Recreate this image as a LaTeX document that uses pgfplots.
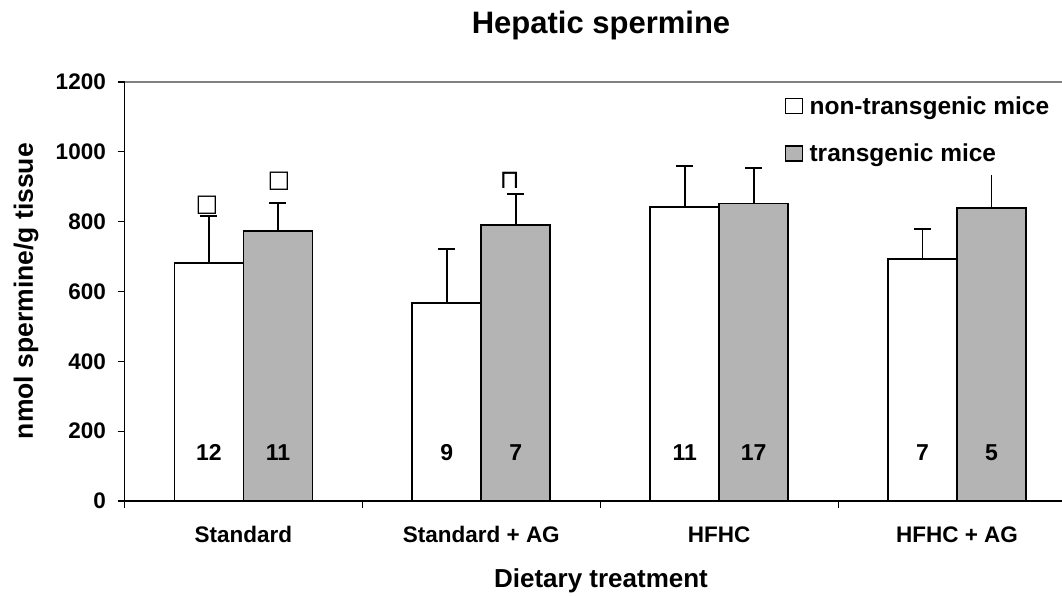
\documentclass[border=0pt]{standalone}
\usepackage{pgfplots}
\pgfplotsset{compat=1.18}
\usepackage{fontspec}
\setmainfont{Liberation Sans}
\newfontfamily\symfont{DejaVu Sans}
\definecolor{barGray}{RGB}{180,180,180}
\definecolor{topGray}{RGB}{128,128,128}
\newcommand{\fs}[1]{\fontsize{#1}{#1}\selectfont\bfseries}
\begin{document}
\begin{tikzpicture}[x=1pt,y=1pt]
\begin{axis}[
  at={(124.5pt,94pt)}, anchor=south west,
  scale only axis, width=951.5pt, height=419pt,
  xmin=-0.5, xmax=3.5, ymin=0, ymax=1200,
  axis x line*=bottom, axis y line*=left,
  axis line style={-, line width=1.5pt, black},
  ybar, bar width=0.29,
  ytick={0,200,...,1200},
  xtick={-0.5,0.5,1.5,2.5,3.5},
  x tick label as interval,
  xticklabels={Standard, Standard + AG, HFHC, HFHC + AG},
  tick align=outside,
  major tick length=7pt,
  tick style={line width=1.2pt, black},
  /pgf/number format/assume math mode=true,
  /pgf/number format/1000 sep={},
  yticklabel style={font=\fs{22.5}, anchor=east, inner sep=0pt, xshift=-11.5pt},
  xticklabel style={font=\fs{22.5}, anchor=base, inner sep=0pt, yshift=-34pt},
  title={Hepatic spermine},
  title style={font=\fs{31}, at={(axis description cs:0.5008,1.1026)}, anchor=base, inner sep=0pt},
  xlabel={Dietary treatment},
  xlabel style={font=\fs{26}, at={(axis description cs:0.5008,-0.2076)}, anchor=base, inner sep=0pt},
  ylabel={nmol spermine/g tissue},
  ylabel style={font=\fs{26.5}, at={(axis description cs:-0.1035,0.501)}, anchor=center, inner sep=0pt},
  legend style={draw=none, fill=none, at={(axis description cs:0.6942,0.965)}, anchor=north west,
    inner sep=0pt, outer sep=0pt, row sep=28pt, font=\fs{24.5},
    nodes={inner sep=0pt}},
  legend cell align=left,
]
\addplot[fill=white, draw=black, line width=1.8pt, bar shift=-0.145,
  legend image code/.code={\draw[line width=1.3pt, draw=black, fill=white] (0pt,-7.5pt) rectangle (17pt,7.5pt); \path (23pt,0pt);},
  error bars/.cd, y dir=plus, y explicit,
  error bar style={line width=1.8pt, black},
  error mark options={rotate=90, mark size=8.5pt, line width=2pt, black}]
  coordinates {(0,681) +- (0,135) (1,568) +- (0,155) (2,841) +- (0,118) (3,693) +- (0,85)};
\addlegendentry{non-transgenic mice}
\addplot[fill=barGray, draw=black, line width=1.8pt, bar shift=0.145,
  legend image code/.code={\draw[line width=1.3pt, draw=black, fill=barGray] (0pt,-7.5pt) rectangle (17pt,7.5pt); \path (23pt,0pt);},
  error bars/.cd, y dir=plus, y explicit,
  error bar style={line width=1.8pt, black},
  error mark options={rotate=90, mark size=8.5pt, line width=2pt, black}]
  coordinates {(0,774) +- (0,80) (1,791) +- (0,87) (2,852) +- (0,101)};
\addlegendentry{transgenic mice}
\addplot[fill=barGray, draw=black, line width=1.8pt, bar shift=0.145, forget plot,
  error bars/.cd, y dir=plus, y explicit, error mark=none,
  error bar style={line width=1.8pt, black}]
  coordinates {(3,840) +- (0,93)};
\draw[topGray, line width=1.5pt] (rel axis cs:0,1) -- (rel axis cs:1,1);
% sample sizes
\node[font=\fs{23}, anchor=base, inner sep=0pt] at (axis cs:-0.145,117) {12};
\node[font=\fs{23}, anchor=base, inner sep=0pt] at (axis cs:0.145,117) {11};
\node[font=\fs{23}, anchor=base, inner sep=0pt] at (axis cs:0.855,117) {9};
\node[font=\fs{23}, anchor=base, inner sep=0pt] at (axis cs:1.145,117) {7};
\node[font=\fs{23}, anchor=base, inner sep=0pt] at (axis cs:1.855,117) {11};
\node[font=\fs{23}, anchor=base, inner sep=0pt] at (axis cs:2.145,117) {17};
\node[font=\fs{23}, anchor=base, inner sep=0pt] at (axis cs:2.855,117) {7};
\node[font=\fs{23}, anchor=base, inner sep=0pt] at (axis cs:3.145,117) {5};
% significance symbols (rendered as missing-glyph boxes)
\node[font=\symfont\fontsize{24}{24}\selectfont, inner sep=0pt] at (axis cs:-0.153,848) {□};
\node[font=\symfont\fontsize{24}{24}\selectfont, inner sep=0pt] at (axis cs:0.149,916) {□};
\node[font=\symfont\fontsize{26}{26}\selectfont, inner sep=0pt] at (axis cs:1.12,919) {⊓};
\end{axis}
\pgfresetboundingbox
\useasboundingbox (0,0) rectangle (1062,595);
\end{tikzpicture}
\end{document}
